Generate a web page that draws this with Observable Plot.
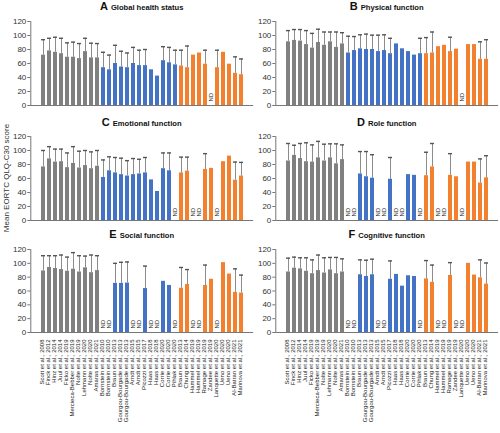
<!DOCTYPE html>
<html><head><meta charset="utf-8">
<script src="https://cdn.jsdelivr.net/npm/d3@7"></script>
<script src="https://cdn.jsdelivr.net/npm/@observablehq/plot@0.6"></script>
<style>
body{margin:0;background:#fff;font-family:"Liberation Sans",Arial,sans-serif;}
#wrap{position:relative;width:500px;height:433px;overflow:hidden;background:#fff;}
.panel{position:absolute;}
.ttl{position:absolute;font-weight:bold;color:#111;white-space:nowrap;transform:translateX(-50%);font-size:7.6px;line-height:12px;}
.ttl b{font-size:11px;margin-right:3px;}
.ylab{position:absolute;left:6px;top:178px;transform:translate(-50%,-50%) rotate(-90deg);font-size:8px;color:#333;white-space:nowrap;}
</style></head>
<body><div id="wrap"></div>
<script>
const labels = [
  "Scott et al., 2008","Finck et al., 2012","Hinz et al., 2014","Juul et al., 2014","Ficko et al., 2019",
  "Mercieca-Bebber et al., 2019","Nolte et al., 2019","Lehmann et al., 2020","Nolte et al., 2020","Amaras et al., 2021",
  "Bornstein et al., 2010","Bornstein et al., 2010","Braun et al., 2013","Gourgou-Bourgade et al., 2013","Gourgou-Bourgade et al., 2013",
  "Arndt et al., 2015","Arndt et al., 2015","Picozzi et al., 2017","Haas et al., 2018","Haas et al., 2018",
  "Corrie et al., 2020","Corrie et al., 2020","Pihlak et al., 2020",
  "Braun et al., 2013","Chung et al., 2014","Hammel et al., 2019","Hammel et al., 2019","Ramage et al., 2019",
  "Zandee et al., 2019","Lanquette et al., 2020","Ueno et al., 2020","Ueno et al., 2020","Al-Batran et al., 2021","Marinova et al., 2021"
];
const groups = [
  "G1","G1","G1","G1","G1","G1","G1","G1","G1","G1",
  "G2","G2","G2","G2","G2","G2","G2","G2","G2","G2","G2","G2","G2",
  "G3","G3","G3","G3","G3","G3","G3","G3","G3","G3","G3"
];
const groupNames = ["G1","G2","G3"];
const groupColors = ["#808080","#4472c4","#f2802e"];
const yTicks = [0,20,40,60,80,100,120];

const titlesLetter = ["A","B","C","D","E","F"];
const titlesText = ["Global health status","Physical function","Emotional function","Role function","Social function","Cognitive function"];

const meanA = [72,78,76,74,69,69,67,77,68,68, 54,51,60,55,54,60,57,57,51,42,64,61,58, 56.5,54,72,75,59,null,54,76,59,46,44];
const upperA = [94,96,97.5,96,89.5,90.5,88.5,96,89,88.5, 76,72,86,77.5,75,83,79,80,null,null,84,83,79, 79,85,null,null,79,null,79,null,null,69.5,66.5];

const meanB = [91,93,92,87,82,90,86,91,83,88, 75,78.5,81,80,80,77,78.5,74,88,81,77,72,74, 74,75,84,86,77,80.5,null,87,87,66,66];
const upperB = [107,108.5,108.5,107,103,109,105,105,105,104, 99,98.5,101,102,100.5,100.5,101,96,null,null,null,null,96, 97,105,null,null,97.5,null,null,null,null,91,94];

const meanC = [76.5,88,83.5,84,75.5,81.5,75,78.5,74,77.5, 61.5,71,68,65.5,63.5,65.5,66.5,68,58,41.5,74,71,null, 68,70.5,null,null,73,74.5,null,84,92,57.5,63.5];
const upperC = [100,105.5,102,102,96.5,105.5,99,100,98,100, 86.5,91,90,89,85.5,88.5,87.5,90,null,null,96.5,96.5,null, 90.5,90.5,null,null,95.5,null,null,null,null,83.5,83];

const meanD = [85,93,88.5,84,83.5,89.5,85,89.5,81,87, null,null,66.5,62.5,60.5,null,null,59,null,null,65.5,64.5,null, 64,76.5,null,null,64.5,62.5,null,83.5,83.5,53.5,61];
const upperD = [110,107.5,110,111,108,113,109,109.5,109.5,108, null,null,98.5,98.5,94,null,null,90,null,null,null,null,null, 97.5,110,null,null,95.5,null,null,null,null,88,92.5];

const meanE = [89,94,92.5,91,88.5,91.5,87.5,93.5,86.5,89.5, null,null,71,71,71.5,null,null,63.5,null,null,74,68,null, 64,69.5,null,null,68,77,null,101,84.5,58,57];
const upperE = [111,111,111,112,109,115.5,111,110.5,112,111, null,null,100,101.5,102,null,null,96,null,null,null,null,null, 94,91,null,null,97.5,null,null,null,null,92,83];

const meanF = [87.5,93,92,88.5,85,89.5,86,90.5,85,87.5, null,null,83.5,81,83.5,null,null,77,84,67,82,81,null, 77.5,72.5,null,null,82.5,null,null,100,83,79,70];
const upperF = [107.5,109,108,108,105,112,108,108.5,108.5,106.5, null,null,105,104.5,106,null,null,103.5,null,null,null,null,null, 104,97.5,null,null,101,null,null,null,null,105,100.5];

const panels = [[meanA,upperA],[meanB,upperB],[meanC,upperC],[meanD,upperD],[meanE,upperE],[meanF,upperF]];

const wrap = document.getElementById("wrap");
const rowTop = [12, 127, 240];
const rowPlotH = [84, 84, 83];
const titleTop = [0, 116, 228];
const colLeft = [0, 245];
const colWidth = [256, 255];
const colMarginRight = [2.9, 1.9];

function makePanel(k) {
  const [mean, upper] = panels[k];
  const row = Math.floor(k / 2), col = k % 2;
  const bottom = row === 2;
  const data = labels.map((l, i) => ({i, label: l, group: groups[i], mean: mean[i], upper: upper[i]}));
  const bars = data.filter(d => d.mean != null);
  const errs = data.filter(d => d.mean != null && d.upper != null);
  const nd = data.filter(d => d.mean == null);
  const marginTop = 9, marginBottom = bottom ? 101 : 3;
  const marks = [
    Plot.barY(bars, {x: "i", y: "mean", fill: "group"}),
    Plot.ruleX(errs, {x: "i", y1: "mean", y2: "upper", stroke: "#8c8c8c", strokeWidth: 1}),
    Plot.tickY(errs, {x: "i", y: "upper", stroke: "#555", strokeWidth: 1.4}),
    Plot.text(nd, {x: "i", y: 0, text: () => "ND", rotate: -90, textAnchor: "start", dy: -4, fontSize: 6, fill: "#222"}),
    Plot.ruleY([0], {stroke: "#777", strokeWidth: 1}),
    Plot.frame({anchor: "left", stroke: "#777"}),
    Plot.axisY({ticks: yTicks, tickSize: 3, tickPadding: 1.5, fontSize: 8, stroke: "#777", color: "#333", label: null})
  ];
  if (bottom) marks.push(Plot.text(data, {x: "i", frameAnchor: "bottom", text: "label", rotate: -90, textAnchor: "end", dy: 7, fontSize: 6, fill: "#222"}));
  const svg = Plot.plot({
    width: colWidth[col],
    height: marginTop + rowPlotH[row] + marginBottom,
    marginLeft: 30.3, marginRight: colMarginRight[col], marginTop, marginBottom,
    style: {background: "none", overflow: "visible", fontFamily: "Liberation Sans, Arial, sans-serif"},
    x: {type: "band", domain: d3.range(labels.length), paddingInner: 0.39, paddingOuter: 0.15, axis: null, label: null},
    y: {domain: [0, 120], label: null},
    color: {type: "ordinal", domain: groupNames, range: groupColors},
    marks
  });
  const div = document.createElement("div");
  div.className = "panel";
  div.style.left = colLeft[col] + "px";
  div.style.top = rowTop[row] + "px";
  div.appendChild(svg);
  wrap.appendChild(div);

  const t = document.createElement("div");
  t.className = "ttl";
  t.style.left = (colLeft[col] + (30.3 + colWidth[col] - colMarginRight[col]) / 2) + "px";
  t.style.top = titleTop[row] + "px";
  t.innerHTML = `<b>${titlesLetter[k]}</b>${titlesText[k]}`;
  wrap.appendChild(t);
}
for (let k = 0; k < 6; k++) makePanel(k);

const yl = document.createElement("div");
yl.className = "ylab";
yl.textContent = "Mean EORTC QLQ-C30 score";
wrap.appendChild(yl);
</script>
</body></html>
